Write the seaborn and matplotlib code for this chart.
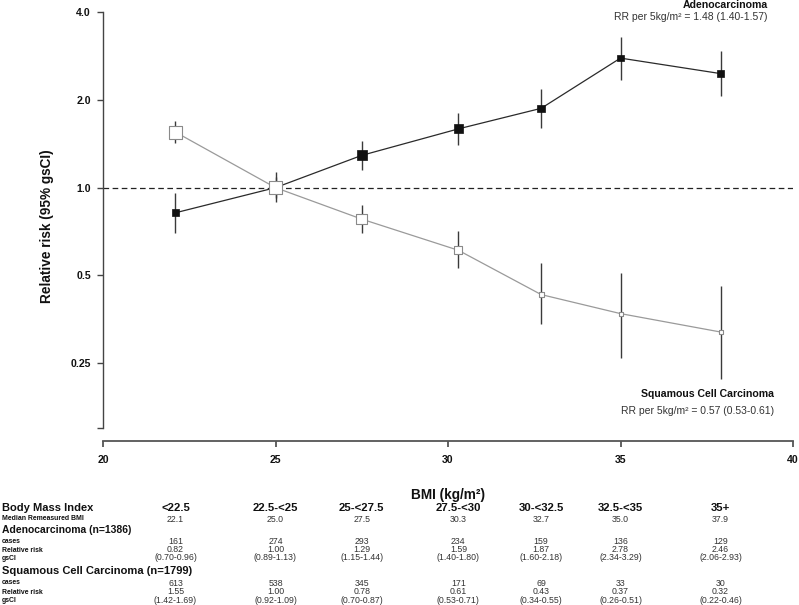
import numpy as np
import pandas as pd
import matplotlib
matplotlib.use("Agg")
import matplotlib.pyplot as plt
import matplotlib.transforms as mtransforms
from matplotlib import font_manager
import seaborn as sns

# ---------------- data ----------------
bmi_groups = ["<22.5", "22.5-<25", "25-<27.5", "27.5-<30", "30-<32.5", "32.5-<35", "35+"]
median_bmi = [22.1, 25.0, 27.5, 30.3, 32.7, 35.0, 37.9]

adeno_cases = [161, 274, 293, 234, 159, 136, 129]
adeno_rr = [0.82, 1.00, 1.29, 1.59, 1.87, 2.78, 2.46]
adeno_lo = [0.70, 0.89, 1.15, 1.40, 1.60, 2.34, 2.06]
adeno_hi = [0.96, 1.13, 1.44, 1.80, 2.18, 3.29, 2.93]

scc_cases = [613, 538, 345, 171, 69, 33, 30]
scc_rr = [1.55, 1.00, 0.78, 0.61, 0.43, 0.37, 0.32]
scc_lo = [1.42, 0.92, 0.70, 0.53, 0.34, 0.26, 0.22]
scc_hi = [1.69, 1.09, 0.87, 0.71, 0.55, 0.51, 0.46]

y_ticks = [0.15, 0.25, 0.5, 1.0, 2.0, 4.0]
y_ticklabels = ["", "0.25", "0.5", "1.0", "2.0", "4.0"]
x_ticks = [20, 25, 30, 35, 40]

adeno_title = "Adenocarcinoma"
adeno_trend = "RR per 5kg/m\u00b2 = 1.48 (1.40-1.57)"
scc_title = "Squamous Cell Carcinoma"
scc_trend = "RR per 5kg/m\u00b2 = 0.57 (0.53-0.61)"

# ---------------- style ----------------
sns.set_style("ticks")
plt.rcParams["font.family"] = ["Liberation Sans", "DejaVu Sans"]

installed = {f.name for f in font_manager.fontManager.ttflist}
NARROW = "Liberation Sans Narrow" if "Liberation Sans Narrow" in installed else None

W, H = 799, 605
fig = plt.figure(figsize=(W / 100, H / 100), dpi=100)
ax = fig.add_axes([103 / W, 1 - 428 / H, 690 / W, 416 / H])

ax.set_yscale("log", base=2)


def fmt(v, d=2):
    return f"{v:.{d}f}"


df_a = pd.DataFrame({"bmi": median_bmi, "rr": adeno_rr, "lo": adeno_lo, "hi": adeno_hi})
df_s = pd.DataFrame({"bmi": median_bmi, "rr": scc_rr, "lo": scc_lo, "hi": scc_hi})

# reference line
ax.axhline(1.0, color="#222222", lw=0.9, ls=(0, (4.5, 2.8)), zorder=1)

# error bars
ax.vlines(df_a["bmi"], df_a["lo"], df_a["hi"], color="#3a3a3a", lw=1.0, zorder=2)
ax.vlines(df_s["bmi"], df_s["lo"], df_s["hi"], color="#3a3a3a", lw=1.0, zorder=2)

# lines
sns.lineplot(data=df_a, x="bmi", y="rr", ax=ax, color="#2a2a2a", lw=0.9, zorder=3)
sns.lineplot(data=df_s, x="bmi", y="rr", ax=ax, color="#9a9a9a", lw=0.9, zorder=4)


# marker sizes proportional to inverse log-CI width (precision)
def sizes(lo, hi):
    w_px = np.maximum(2.3 / np.log(np.array(hi) / np.array(lo)), 4.0)
    return (w_px * 0.72) ** 2


sns.scatterplot(data=df_a, x="bmi", y="rr", ax=ax, marker="s", s=sizes(adeno_lo, adeno_hi),
                color="#111111", edgecolor="#111111", linewidth=0.5, zorder=5, legend=False)
sns.scatterplot(data=df_s, x="bmi", y="rr", ax=ax, marker="s", s=sizes(scc_lo, scc_hi),
                color="white", edgecolor="#8a8a8a", linewidth=0.8, zorder=6, legend=False)

# axes
ax.set_xlim(20, 40)
ax.set_ylim(0.15, 4.0)
ax.set_yticks(y_ticks)
ax.set_yticklabels(y_ticklabels)
ax.yaxis.set_minor_locator(matplotlib.ticker.NullLocator())
ax.set_xticks(x_ticks)
ax.set_xticklabels([str(t) for t in x_ticks])

for s in ["top", "right"]:
    ax.spines[s].set_visible(False)
ax.spines["left"].set_color("#444444")
ax.spines["left"].set_linewidth(1.0)
ax.spines["bottom"].set_color("#555555")
ax.spines["bottom"].set_linewidth(1.3)
ax.spines["bottom"].set_position(("outward", 9.4))

ax.tick_params(axis="y", length=4.3, width=1.0, color="#444444", pad=4.3,
               labelsize=7.6, labelcolor="#111111")
ax.tick_params(axis="x", length=4.3, width=1.3, color="#555555", pad=5.5,
               labelsize=7.6, labelcolor="#111111")
for lab in ax.get_xticklabels() + ax.get_yticklabels():
    lab.set_fontweight("bold")

ax.set_ylabel("Relative risk (95% gsCI)", fontsize=9.8, fontweight="bold", color="#111111")
ax.yaxis.set_label_coords((54 - 103) / 690, (428 - 226) / 416)
ax.set_xlabel("BMI (kg/m\u00b2)", fontsize=9.8, fontweight="bold", color="#111111")
ax.xaxis.set_label_coords(0.5, (428 - 488) / 416)


def fpx(x, y):
    return x / W, 1 - y / H


# annotations
fig.text(*fpx(768, 5), adeno_title, ha="right", va="center", fontsize=7.6, fontweight="bold", color="#111111")
fig.text(*fpx(768, 17), adeno_trend, ha="right", va="center", fontsize=7.5, color="#333333")
fig.text(*fpx(774, 394), scc_title, ha="right", va="center", fontsize=7.6, fontweight="bold", color="#111111")
fig.text(*fpx(774, 411), scc_trend, ha="right", va="center", fontsize=7.5, color="#333333")

# ---------------- table ----------------
trans = mtransforms.blended_transform_factory(ax.transData, fig.transFigure)
rows_y = {
    "bmi": 508, "median": 519, "adeno": 530, "a_cases": 541.5, "a_rr": 550, "a_ci": 558,
    "scc": 571, "s_cases": 583, "s_rr": 592, "s_ci": 600.5,
}


def row_label(key, text, size, narrow=False):
    kw = {}
    if narrow and NARROW:
        kw["family"] = [NARROW, "Liberation Sans", "DejaVu Sans"]
    elif narrow:
        size = size * 0.86
    fig.text(2 / W, 1 - rows_y[key] / H, text, ha="left", va="center", fontsize=size,
             fontweight="bold", color="#111111", **kw)


row_label("bmi", "Body Mass Index", 8.0)
row_label("median", "Median Remeasured BMI", 5.8, narrow=True)
row_label("adeno", "Adenocarcinoma (n=1386)", 7.5)
row_label("a_cases", "cases", 5.8, narrow=True)
row_label("a_rr", "Relative risk", 5.8, narrow=True)
row_label("a_ci", "gsCI", 5.8, narrow=True)
row_label("scc", "Squamous Cell Carcinoma (n=1799)", 8.0)
row_label("s_cases", "cases", 5.8, narrow=True)
row_label("s_rr", "Relative risk", 5.8, narrow=True)
row_label("s_ci", "gsCI", 5.8, narrow=True)


def cell(x, key, text, size=6.3, bold=False, color="#333333"):
    fy = 1 - rows_y[key] / H
    fig.text(x, fy, text, transform=trans, ha="center", va="center", fontsize=size,
             fontweight="bold" if bold else "normal", color=color)


for i, x in enumerate(median_bmi):
    cell(x, "bmi", bmi_groups[i], size=8.2, bold=True, color="#111111")
    cell(x, "median", fmt(median_bmi[i], 1))
    cell(x, "a_cases", str(adeno_cases[i]))
    cell(x, "a_rr", fmt(adeno_rr[i]))
    cell(x, "a_ci", f"({fmt(adeno_lo[i])}-{fmt(adeno_hi[i])})")
    cell(x, "s_cases", str(scc_cases[i]))
    cell(x, "s_rr", fmt(scc_rr[i]))
    cell(x, "s_ci", f"({fmt(scc_lo[i])}-{fmt(scc_hi[i])})")

fig.savefig("out.png", dpi=100)
